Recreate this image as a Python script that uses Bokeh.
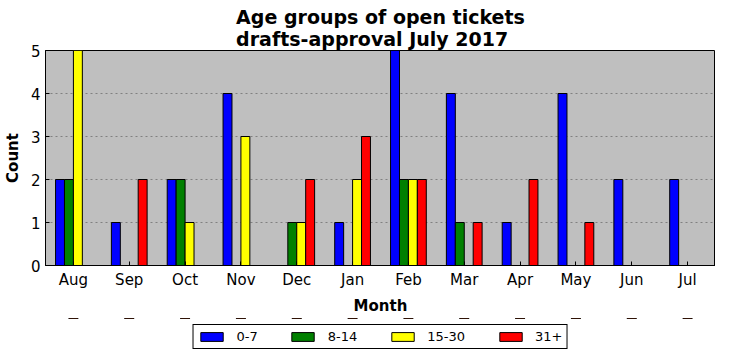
from bokeh.plotting import figure
from bokeh.models import ColumnDataSource, FactorRange, Range1d, Legend, LegendItem
from bokeh.layouts import column
from bokeh.transform import dodge
from bokeh.embed import file_html
from bokeh.resources import INLINE

months = ["Aug", "Sep", "Oct", "Nov", "Dec", "Jan", "Feb", "Mar", "Apr", "May", "Jun", "Jul"]
age_0_7 = [2, 1, 2, 4, 0, 1, 5, 4, 1, 4, 2, 2]
age_8_14 = [2, 0, 2, 0, 1, 0, 2, 1, 0, 0, 0, 0]
age_15_30 = [5, 0, 1, 3, 1, 2, 2, 0, 0, 0, 0, 0]
age_31_plus = [0, 2, 0, 0, 2, 3, 2, 1, 2, 1, 0, 0]
series_labels = ["0-7", "8-14", "15-30", "31+"]
series_colors = ["#0000ff", "#008000", "#ffff00", "#ff0000"]
y_ticks = [0, 1, 2, 3, 4, 5]

src = ColumnDataSource(dict(month=months, a=age_0_7, b=age_8_14, c=age_15_30, d=age_31_plus))

FONT = "DejaVu Sans"

p = figure(x_range=FactorRange(*months), y_range=Range1d(0, 5),
           width=715, height=318, output_backend="svg", toolbar_location=None,
           min_border_left=42, min_border_right=0, min_border_top=50, min_border_bottom=53,
           title="Age groups of open tickets\ndrafts-approval July 2017")

p.title.align = "center"
p.title.text_font = FONT
p.title.text_font_size = "19px"
p.title.text_font_style = "bold"
p.title.text_color = "black"
p.title.standoff = 2

p.background_fill_color = "#bfbfbf"
p.border_fill_color = "white"
p.outline_line_color = "black"

width = 0.16
offsets = [-0.24, -0.08, 0.08, 0.24]
fields = ["a", "b", "c", "d"]
for f, off, col in zip(fields, offsets, series_colors):
    p.vbar(x=dodge("month", off, range=p.x_range), top=f, bottom=0, width=width,
           source=src, fill_color=col, line_color="black", line_width=1)

for ax in (p.xaxis[0], p.yaxis[0]):
    ax.major_tick_in = 4
    ax.major_tick_out = 0
    ax.minor_tick_line_color = None
    ax.axis_line_color = "black"
    ax.major_label_text_font = FONT
    ax.major_label_text_font_size = "15px"
    ax.major_label_text_color = "black"
    ax.axis_label_text_font = FONT
    ax.axis_label_text_font_size = "15px"
    ax.axis_label_text_font_style = "bold"
    ax.axis_label_text_color = "black"

p.yaxis.ticker = y_ticks
p.yaxis.axis_label = "Count"
p.xaxis.axis_label = "Month"
p.xaxis.major_label_standoff = 5
p.yaxis.major_label_standoff = 5
p.xaxis.axis_label_standoff = 5
p.yaxis.axis_label_standoff = 6

p.xgrid.grid_line_color = None
p.ygrid.grid_line_color = "#808080"
p.ygrid.grid_line_dash = "2 3"

# legend strip below the chart: same series, drawn outside its visible y-range
lg = figure(width=715, height=35, x_range=p.x_range, y_range=Range1d(-2, -1),
            output_backend="svg", toolbar_location=None,
            x_axis_location=None, y_axis_location=None,
            min_border_left=42, min_border_right=0, min_border_top=0, min_border_bottom=0)
lg.outline_line_color = None
lg.background_fill_color = "white"
lg.grid.visible = False
swatches = []
for f, col in zip(fields, series_colors):
    swatches.append(lg.vbar(x="month", top=f, bottom=0, width=width, source=src,
                            fill_color=col, line_color="black", line_width=1))

legend = Legend(items=[LegendItem(label=l, renderers=[r]) for l, r in zip(series_labels, swatches)],
                orientation="horizontal", location="bottom_center",
                border_line_color="black", border_line_alpha=1,
                background_fill_color="white", background_fill_alpha=1,
                label_text_font=FONT, label_text_font_size="13px", label_text_color="black",
                glyph_width=28, glyph_height=11, label_standoff=11, spacing=31,
                padding=4, margin=4)
lg.add_layout(legend, "center")

open("out.html", "w").write(file_html(column(p, lg), INLINE))
